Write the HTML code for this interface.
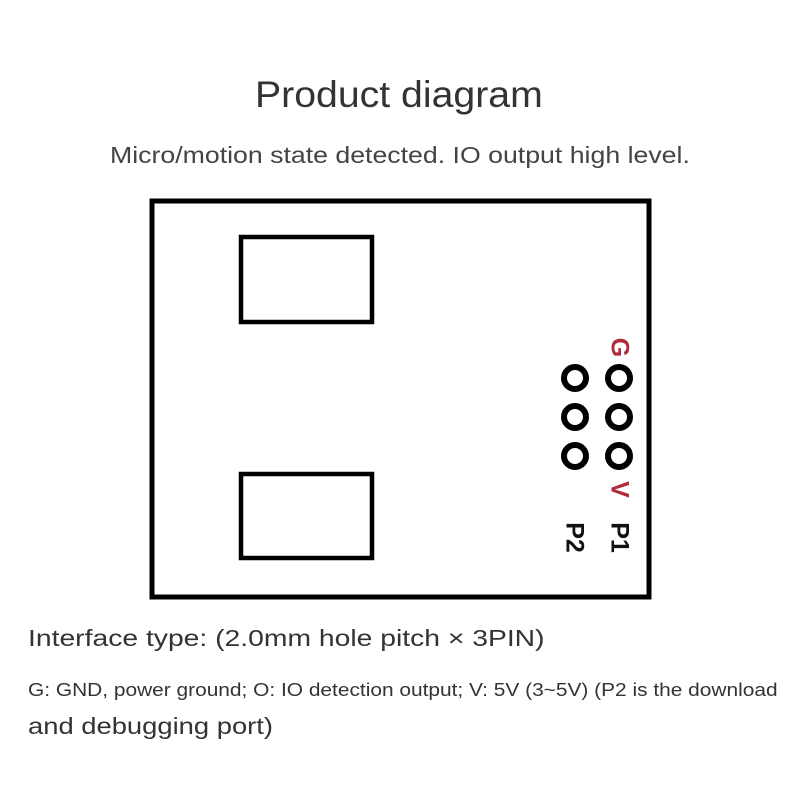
<!DOCTYPE html>
<html><head><style>
body{margin:0;width:800px;height:800px;background:#fff;position:relative;font-family:"Liberation Sans",sans-serif;color:#333;overflow:hidden}
.t{position:absolute;white-space:nowrap}
.rot{position:absolute;transform:rotate(90deg);transform-origin:center;font-weight:bold;font-size:25px;line-height:25px}
</style></head><body>
<div class="t" style="left:255px;top:74px;font-size:37px;color:#333;transform:scaleX(1.06);transform-origin:left">Product diagram</div>
<div class="t" style="left:110px;top:142px;font-size:23px;color:#444;transform:scaleX(1.16);transform-origin:left">Micro/motion state detected. IO output high level.</div>
<svg width="800" height="800" style="position:absolute;left:0;top:0">
<rect x="152" y="201" width="497" height="396" fill="none" stroke="#000" stroke-width="5"/>
<rect x="241" y="237" width="131" height="85" fill="none" stroke="#000" stroke-width="4.5"/>
<rect x="241" y="474" width="131" height="84" fill="none" stroke="#000" stroke-width="4.5"/>
<g fill="none" stroke="#000" stroke-width="6">
<circle cx="575" cy="378" r="11"/><circle cx="619" cy="378" r="11"/>
<circle cx="575" cy="417" r="11"/><circle cx="619" cy="417" r="11"/>
<circle cx="575" cy="456" r="11"/><circle cx="619" cy="456" r="11"/>
</g>
</svg>
<div class="rot" style="left:607px;top:335px;width:24px;text-align:center;color:#b02a3a">G</div>
<div class="rot" style="left:607px;top:477px;width:24px;text-align:center;color:#b02a3a">V</div>
<div class="rot" style="left:601px;top:525px;width:36px;text-align:center;color:#111">P1</div>
<div class="rot" style="left:556px;top:525px;width:36px;text-align:center;color:#111">P2</div>
<div class="t" style="left:28px;top:625px;font-size:23px;color:#333;transform:scaleX(1.23);transform-origin:left">Interface type: (2.0mm hole pitch × 3PIN)</div>
<div class="t" style="left:28px;top:680px;font-size:18px;color:#333;transform:scaleX(1.16);transform-origin:left">G: GND, power ground; O: IO detection output; V: 5V (3~5V) (P2 is the download</div>
<div class="t" style="left:28px;top:713px;font-size:23px;color:#333;transform:scaleX(1.19);transform-origin:left">and debugging port)</div>
</body></html>
